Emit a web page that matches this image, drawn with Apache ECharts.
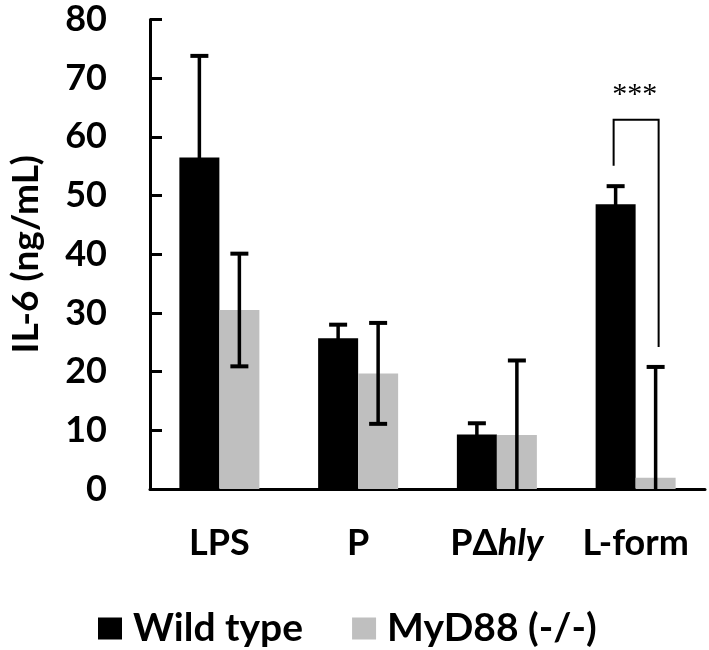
<!DOCTYPE html>
<html>
<head>
<meta charset="utf-8">
<script src="https://cdn.jsdelivr.net/npm/echarts@6/dist/echarts.min.js"></script>
<style>
html,body{margin:0;padding:0;background:#fff;}
#chart{width:709px;height:650px;}
</style>
</head>
<body>
<div id="chart"></div>
<script>
// ---- data ----
const categories = ['LPS', 'P', 'PΔhly', 'L-form'];
const seriesNames = ['Wild type', 'MyD88 (-/-)'];
const wtMean = [56.5, 25.7, 9.3, 48.5];
const wtErr = [17.3, 2.3, 1.9, 3.1];
const koMean = [30.5, 19.7, 9.2, 1.9];
const koErr = [9.6, 8.6, 12.7, 18.9];
const yMin = 0, yMax = 80, yStep = 10;
// significance bracket: [category index, left end value, top value, right end value]
const sigBracket = [[3, 55.1, 62.9, 24.2]];
const sigLabel = '***';
const sigLabelValue = 67.7;

// ---- styles ----
const FONT = 'Lato';
const BAR_W = 40;
const wtColor = '#000000';
const koColor = '#bfbfbf';

function errData(mean, err) {
  return mean.map((m, i) => [i, Math.max(0, m - err[i]), m + err[i]]);
}

function makeErrRender(offset) {
  return function (params, api) {
    const xi = api.value(0), lo = api.value(1), hi = api.value(2);
    const pLo = api.coord([xi, lo]);
    const pHi = api.coord([xi, hi]);
    const x = pLo[0] + offset;
    const cap = 9;
    const st = { stroke: '#000', lineWidth: 3.5 };
    const children = [
      { type: 'line', shape: { x1: x, y1: pLo[1], x2: x, y2: pHi[1] }, style: st },
      { type: 'line', shape: { x1: x - cap, y1: pHi[1], x2: x + cap, y2: pHi[1] }, style: { stroke: '#000', lineWidth: 4 } }
    ];
    if (lo > 0) {
      children.push({ type: 'line', shape: { x1: x - cap, y1: pLo[1], x2: x + cap, y2: pLo[1] }, style: { stroke: '#000', lineWidth: 4 } });
    }
    return { type: 'group', children: children };
  };
}

function bracketRender(params, api) {
  const xi = api.value(0);
  const pL = api.coord([xi, api.value(1)]);
  const pT = api.coord([xi, api.value(2)]);
  const pR = api.coord([xi, api.value(3)]);
  const pS = api.coord([xi, sigLabelValue]);
  const xl = pL[0] - 22, xr = pL[0] + 23;
  const st = { stroke: '#000', lineWidth: 2, fill: null };
  return {
    type: 'group',
    children: [
      { type: 'polyline', shape: { points: [[xl, pL[1]], [xl, pT[1]], [xr, pT[1]], [xr, pR[1]]] }, style: st },
      { type: 'text', style: { text: sigLabel, x: pS[0] - 1, y: pS[1] + 3, align: 'center', verticalAlign: 'middle',
        font: 'normal 30px "Liberation Serif", serif', fill: '#000' } }
    ]
  };
}

const chart = echarts.init(document.getElementById('chart'), null, { renderer: 'canvas' });
chart.setOption({
  animation: false,
  backgroundColor: '#ffffff',
  grid: { left: 142, right: 4, top: 19.5, bottom: 161, containLabel: false },
  legend: {
    data: seriesNames,
    left: 98,
    top: 609,
    padding: 0,
    icon: 'rect',
    itemWidth: 24,
    itemHeight: 22,
    itemGap: 49,
    textStyle: { fontFamily: FONT, fontWeight: 'bold', fontSize: 39, color: '#000', padding: [0, 0, 0, 6] }
  },
  xAxis: {
    type: 'category',
    data: categories,
    axisLine: { lineStyle: { color: '#000', width: 3 } },
    axisTick: { show: false },
    axisLabel: {
      interval: 0,
      margin: 36,
      color: '#000',
      fontFamily: FONT, fontWeight: 'bold', fontSize: 36,
      formatter: function (v) {
        if (v === 'PΔhly') return '{n|PΔ}{i|hly}';
        return v;
      },
      rich: {
        n: { fontFamily: FONT, fontWeight: 'bold', fontSize: 36, color: '#000' },
        i: { fontFamily: FONT, fontWeight: 'bold', fontStyle: 'italic', fontSize: 36, color: '#000' }
      }
    },
    splitLine: { show: false }
  },
  yAxis: {
    type: 'value',
    min: yMin, max: yMax, interval: yStep,
    name: 'IL-6 (ng/mL)',
    nameLocation: 'middle',
    nameRotate: 90,
    nameGap: 105,
    nameTextStyle: { fontFamily: FONT, fontWeight: 'bold', fontSize: 37, color: '#000' },
    axisLine: { show: true, lineStyle: { color: '#000', width: 3 } },
    axisTick: { show: true, inside: true, length: 12, lineStyle: { color: '#000', width: 3 } },
    axisLabel: { margin: 43, color: '#000', fontFamily: FONT, fontWeight: 'bold', fontSize: 36 },
    splitLine: { show: false }
  },
  series: [
    { name: seriesNames[0], type: 'bar', data: wtMean, barWidth: BAR_W, barGap: '0%', itemStyle: { color: wtColor }, z: 2 },
    { name: seriesNames[1], type: 'bar', data: koMean, barWidth: BAR_W, barGap: '0%', itemStyle: { color: koColor }, z: 2 },
    { type: 'custom', renderItem: makeErrRender(-BAR_W / 2), data: errData(wtMean, wtErr), encode: { x: 0, y: [1, 2] }, z: 5, silent: true },
    { type: 'custom', renderItem: makeErrRender(BAR_W / 2), data: errData(koMean, koErr), encode: { x: 0, y: [1, 2] }, z: 5, silent: true },
    { type: 'custom', renderItem: bracketRender, data: sigBracket, encode: { x: 0, y: [1, 2, 3] }, z: 6, silent: true, clip: false }
  ]
});
</script>
</body>
</html>
